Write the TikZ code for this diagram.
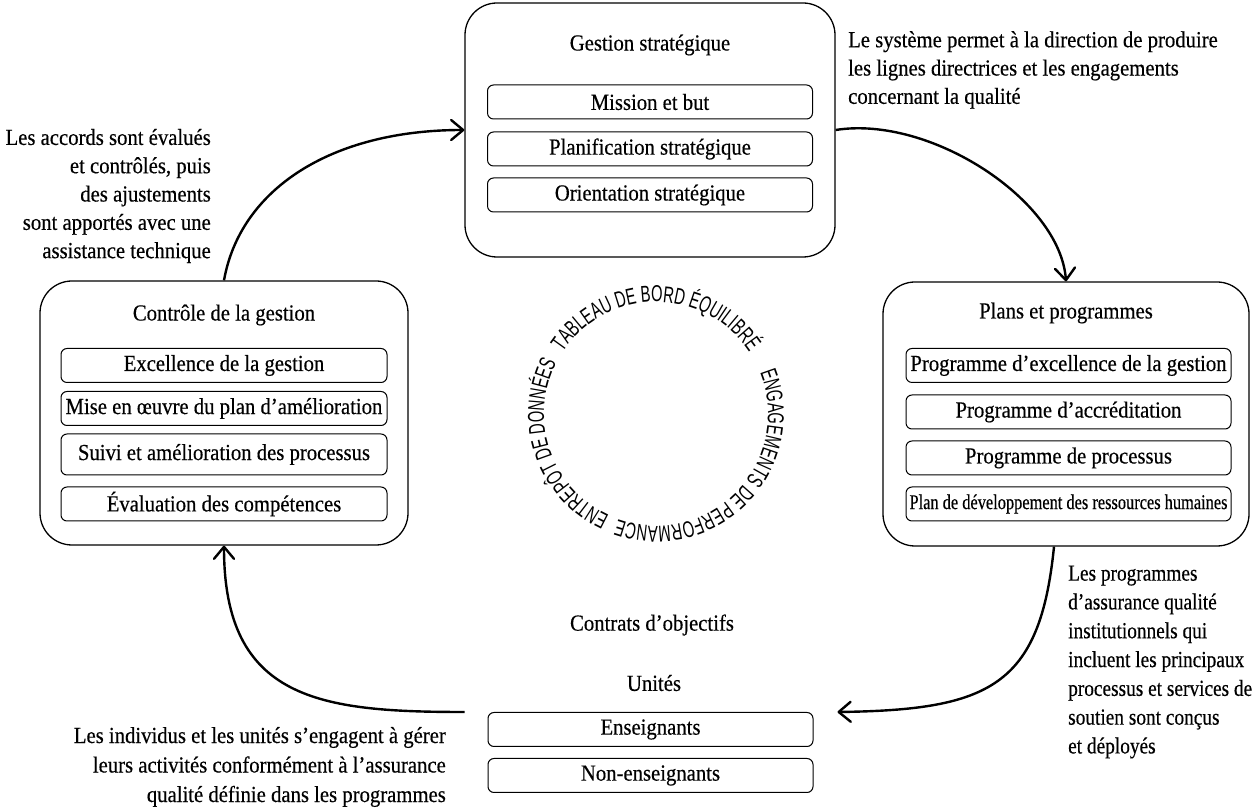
\documentclass[tikz,border=0pt]{standalone}
\usepackage{fontspec}
\setmainfont{Liberation Serif}[FakeStretch=0.9, FakeBold=0.4]
\newfontfamily\narrowserif{Liberation Serif}[FakeStretch=0.78, FakeBold=0.4]
\newfontfamily\condserif{Liberation Serif}[FakeStretch=0.84, FakeBold=0.4]
\newfontfamily\arcfont{Liberation Sans}[FakeStretch=0.64]
\usetikzlibrary{arrows.meta,decorations.text,calc}
\newcommand\arcstyle{\arcfont\fontsize{23}{23}\selectfont}
\tikzset{
  lbl/.style={font=\fontsize{23}{28.3}\selectfont, inner sep=0pt},
  bigbox/.style={draw, line width=1.3pt, rounded corners=32pt, inner sep=0pt},
  itembox/.style={draw, line width=1pt, rounded corners=6pt, minimum width=325pt,
    minimum height=34pt, inner sep=0pt, font=\fontsize{23}{28.3}\selectfont},
  flow/.style={line width=2.4pt, -{Straight Barb[length=12pt,width=20pt,round]}},
  arctext/.style={decorate, decoration={text along path, text align=center, text={#1}}}
}
\begin{document}
\begin{tikzpicture}[x=1pt,y=1pt]
\useasboundingbox (0,0) rectangle (1258,811);

% Strategic management block
\node[bigbox, minimum width=370pt, minimum height=254pt] (gs) at (650,681) {};
\node[lbl] (gst) at (650,766) {Gestion stratégique};
\node[itembox] (gs1) at (650,709) {Mission et but};
\node[itembox] (gs2) at (650,662) {Planification stratégique};
\node[itembox] (gs3) at (650,616) {Orientation stratégique};

% Management control block
\node[bigbox, minimum width=368pt, minimum height=264pt] (ctl) at (224,398) {};
\node[lbl] (ctlt) at (224,496) {Contrôle de la gestion};
\node[itembox, minimum width=326pt] (ctl1) at (224,445.5) {Excellence de la gestion};
\node[itembox, minimum width=326pt] (ctl2) at (224,402.5) {Mise en œuvre du plan d’amélioration};
\node[itembox, minimum width=326pt, minimum height=41pt] (ctl3) at (224,356.5) {Suivi et amélioration des processus};
\node[itembox, minimum width=326pt] (ctl4) at (224,307) {Évaluation des compétences};

% Plans and programmes block
\node[bigbox, minimum width=366pt, minimum height=264pt] (pp) at (1066,397) {};
\node[lbl] (ppt) at (1066,498) {Plans et programmes};
\node[itembox] (pp1) at (1068.5,445.5) {Programme d’excellence de la gestion};
\node[itembox] (pp2) at (1068.5,399) {Programme d’accréditation};
\node[itembox] (pp3) at (1068.5,353) {Programme de processus};
\node[itembox, font=\narrowserif\fontsize{21}{25}\selectfont] (pp4) at (1068.5,307) {Plan de développement des ressources humaines};

% Units
\node[lbl] (obj) at (652,186) {Contrats d’objectifs};
\node[lbl] (un) at (654,128) {Unités};
\node[itembox] (ens) at (650.5,81.5) {Enseignants};
\node[itembox] (nens) at (650.5,35.5) {Non-enseignants};

% Explanatory texts
\node[lbl, anchor=west, align=left] (t1) at (848,741)
  {Le système permet à la direction de produire\\les lignes directrices et les engagements\\concernant la qualité};
\node[lbl, anchor=east, align=right] (t2) at (211,615)
  {Les accords sont évalués\\et contrôlés, puis\\des ajustements\\sont apportés avec une\\assistance technique};
\node[lbl, anchor=east, align=right, font=\fontsize{23}{29.5}\selectfont] (t3) at (446,44)
  {Les individus et les unités s’engagent à gérer\\leurs activités conformément à l’assurance\\qualité définie dans les programmes};
\node[lbl, anchor=west, align=left, font=\condserif\fontsize{23}{28.8}\selectfont] (t4) at (1068,149)
  {Les programmes\\d’assurance qualité\\institutionnels qui\\incluent les principaux\\processus et services de\\soutien sont conçus\\et déployés};

% Cycle connectors
\coordinate (ensin) at ($(ens.north east)+(24,0)$);
\coordinate (ensout) at ($(ens.north west)+(-23,0)$);
\draw[flow] (ctl.north) .. controls (240,621) and (330,681) .. (gs.west);
\draw[flow] (gs.east) .. controls (930,696) and (1060,611) .. (pp.north);
\draw[flow] ([xshift=-12pt]pp.south) .. controls (1040,125) and (990,101) .. (ensin);
\draw[flow] (ensout) .. controls (320,99) and (224,111) .. (ctl.south);

% Circular captions
\coordinate (C) at (656,397);
\path[arctext={|\arcstyle|TABLEAU DE BORD ÉQUILIBRÉ}]
  ($(C)+(170:112)$) arc[start angle=170, end angle=10, radius=112];
\path[arctext={|\arcstyle|ENGAGEMENTS DE PERFORMANCE}]
  ($(C)+(40:112)$) arc[start angle=40, end angle=-128, radius=112];
\path[arctext={|\arcstyle|ENTREPÔT DE DONNÉES}]
  ($(C)+(260:112)$) arc[start angle=260, end angle=138, radius=112];
\end{tikzpicture}
\end{document}
